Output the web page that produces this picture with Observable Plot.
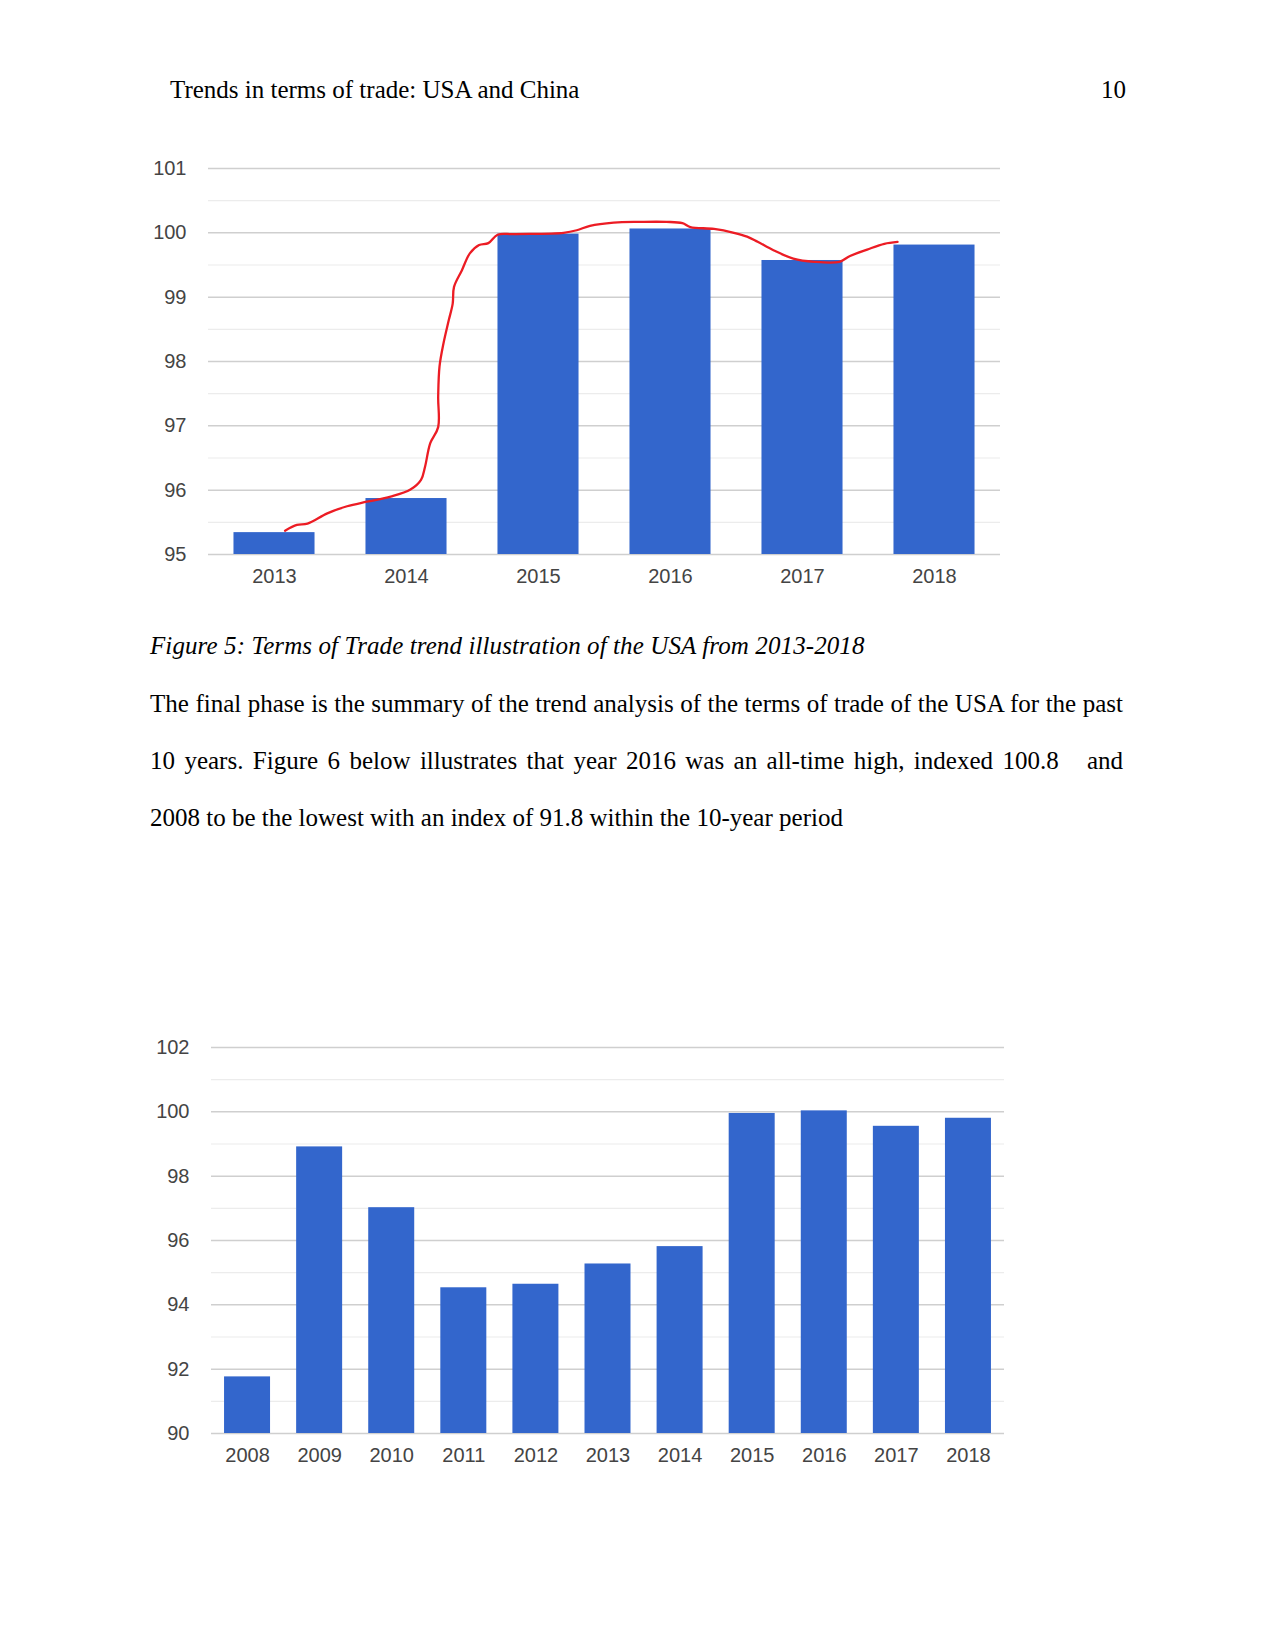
<!DOCTYPE html>
<html>
<head>
<meta charset="utf-8">
<script src="https://cdn.jsdelivr.net/npm/d3@7"></script>
<script src="https://cdn.jsdelivr.net/npm/@observablehq/plot@0.6"></script>
<style>
  html, body { margin: 0; padding: 0; background: #fff; }
  #page { position: relative; width: 1275px; height: 1650px; background: #fff; overflow: hidden; }
  .doc { position: absolute; font-family: "Liberation Serif", "Times New Roman", serif; font-size: 25px; line-height: 25px; color: #000; white-space: pre; }
  .just { white-space: normal; text-align: justify; text-align-last: justify; width: 973px; }
  .chart { position: absolute; }
</style>
</head>
<body>
<div id="page">
  <div class="doc" style="left:170px; top:77px;">Trends in terms of trade: USA and China</div>
  <div class="doc" style="left:1101px; top:77px;">10</div>
  <div id="chart1" class="chart" style="left:140px; top:140px;"></div>
  <div class="doc" style="left:150px; top:633px; font-style:italic; letter-spacing:0.1px;">Figure 5: Terms of Trade trend illustration of the USA from 2013-2018</div>
  <div class="doc just" style="left:150px; top:691px;">The final phase is the summary of the trend analysis of the terms of trade of the USA for the past</div>
  <div class="doc just" style="left:150px; top:748px;">10 years. Figure 6 below illustrates that year 2016 was an all-time high, indexed 100.8&nbsp;&nbsp; and</div>
  <div class="doc" style="left:150px; top:805px;">2008 to be the lowest with an index of 91.8 within the 10-year period</div>
  <div id="chart2" class="chart" style="left:140px; top:1020px;"></div>
</div>
<script>
// ---- Figure 5 data (2013-2018) ----
const years1 = [2013, 2014, 2015, 2016, 2017, 2018];
const values1 = [95.34, 95.87, 99.98, 100.06, 99.57, 99.81];
const majorTicks1 = [95, 96, 97, 98, 99, 100, 101];
const minorTicks1 = [95.5, 96.5, 97.5, 98.5, 99.5, 100.5];

// hand-drawn red trend line (x in years, y in index)
const trendX = [2013.08, 2013.17, 2013.25, 2013.40, 2013.55, 2013.70, 2013.88, 2014.03, 2014.11, 2014.14,
                2014.18, 2014.24, 2014.24, 2014.25, 2014.28, 2014.32, 2014.35, 2014.36, 2014.42, 2014.48,
                2014.55, 2014.62, 2014.69, 2014.81, 2015.19, 2015.29, 2015.39, 2015.57, 2015.77, 2015.97,
                2016.09, 2016.15, 2016.33, 2016.48, 2016.58, 2016.66, 2016.78, 2016.93, 2017.09, 2017.28,
                2017.36, 2017.49, 2017.62, 2017.72];
const trendY = [95.37, 95.46, 95.48, 95.64, 95.75, 95.82, 95.90, 96.01, 96.16, 96.36,
                96.73, 96.98, 97.45, 97.92, 98.28, 98.64, 98.90, 99.16, 99.42, 99.68,
                99.81, 99.84, 99.97, 99.98, 100.00, 100.04, 100.11, 100.16, 100.17, 100.17,
                100.15, 100.09, 100.06, 100.00, 99.94, 99.86, 99.73, 99.60, 99.55, 99.55,
                99.64, 99.74, 99.83, 99.86];

// ---- Figure 6 data (2008-2018) ----
const years2 = [2008, 2009, 2010, 2011, 2012, 2013, 2014, 2015, 2016, 2017, 2018];
const values2 = [91.76, 98.91, 97.02, 94.53, 94.64, 95.27, 95.81, 99.95, 100.03, 99.55, 99.80];
const majorTicks2 = [90, 92, 94, 96, 98, 100, 102];
const minorTicks2 = [91, 93, 95, 97, 99, 101];

const BAR = "#3366cc";
const MAJOR = "#cfcfcf";
const MINOR = "#ececec";
const font = {fontFamily: "'Liberation Sans', Arial, sans-serif", fontSize: "20px", color: "#444", background: "transparent", overflow: "visible"};

const table1 = years1.map((y, i) => ({year: y, value: values1[i]}));
const trend = trendX.map((x, i) => ({x, y: trendY[i]}));
const table2 = years2.map((y, i) => ({year: y, value: values2[i]}));

const c1 = Plot.plot({
  width: 880, height: 460,
  marginLeft: 68, marginRight: 20, marginTop: 28, marginBottom: 46,
  style: font,
  x: {type: "linear", domain: [2012.5, 2018.5]},
  y: {domain: [95, 101]},
  marks: [
    Plot.ruleY(minorTicks1, {stroke: MINOR, strokeWidth: 1.2}),
    Plot.ruleY(majorTicks1, {stroke: MAJOR, strokeWidth: 1.5}),
    Plot.rectY(table1, {x1: d => d.year - 0.307, x2: d => d.year + 0.307, y1: 95, y2: "value", fill: BAR}),
    Plot.line(trend, {x: "x", y: "y", stroke: "#ec1c24", strokeWidth: 2.3, curve: "catmull-rom"}),
    Plot.axisX({ticks: years1, tickFormat: d => String(d), tickSize: 0, tickPadding: 14, fill: "#444", label: null}),
    Plot.axisY({ticks: majorTicks1, tickFormat: d => String(d), tickSize: 0, tickPadding: 22, fill: "#444", label: null})
  ]
});
document.getElementById("chart1").appendChild(c1);

const c2 = Plot.plot({
  width: 880, height: 460,
  marginLeft: 71, marginRight: 16, marginTop: 27, marginBottom: 47,
  style: font,
  x: {type: "linear", domain: [2007.5, 2018.5]},
  y: {domain: [90, 102]},
  marks: [
    Plot.ruleY(minorTicks2, {stroke: MINOR, strokeWidth: 1.2}),
    Plot.ruleY(majorTicks2, {stroke: MAJOR, strokeWidth: 1.5}),
    Plot.rectY(table2, {x1: d => d.year - 0.319, x2: d => d.year + 0.319, y1: 90, y2: "value", fill: BAR}),
    Plot.axisX({ticks: years2, tickFormat: d => String(d), tickSize: 0, tickPadding: 14, fill: "#444", label: null}),
    Plot.axisY({ticks: majorTicks2, tickFormat: d => String(d), tickSize: 0, tickPadding: 22, fill: "#444", label: null})
  ]
});
document.getElementById("chart2").appendChild(c2);
</script>
</body>
</html>
